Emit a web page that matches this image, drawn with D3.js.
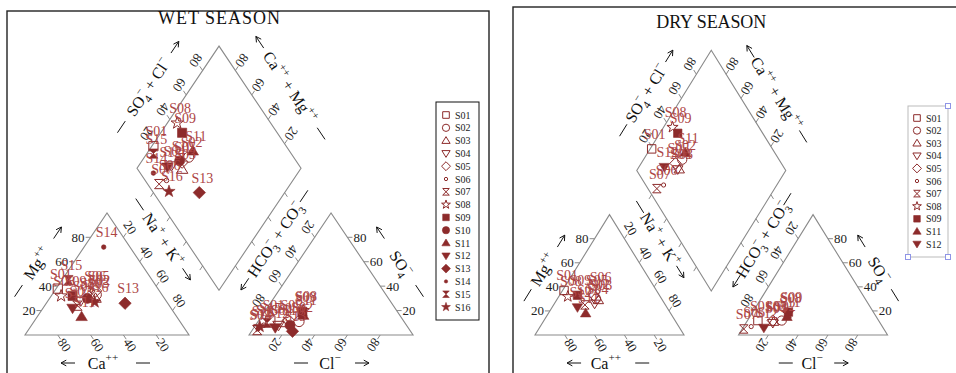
<!DOCTYPE html>
<html>
<head>
<meta charset="utf-8">
<script src="https://cdn.jsdelivr.net/npm/d3@7"></script>
<style>
  body { margin: 0; background: #fff; }
  svg { display: block; font-family: "Liberation Serif", "Times New Roman", serif; }
</style>
</head>
<body>
<svg id="chart" width="956" height="373"></svg>
<script>
// ---- data (percent of meq) ----
var wetSites = ["S01","S02","S03","S04","S05","S06","S07","S08","S09","S10","S11","S12","S13","S14","S15","S16"];
var wetCa   = [61, 40, 42, 52, 39, 41, 56, 62, 55, 47, 58, 60, 26, 16, 51, 44];
var wetMg   = [38, 33, 30, 28, 36, 36, 24, 32, 32, 30, 15, 22, 26, 72, 45, 27];
var wetNaK  = [ 1, 27, 28, 20, 25, 23, 20,  6, 13, 23, 27, 18, 48, 12,  4, 29];
var wetHCO3 = [81, 64, 73, 78, 70, 87, 93, 57, 58, 71, 59, 81, 72, 92, 84, 90];
var wetSO4  = [12, 11, 10,  8, 12,  8,  4, 20, 19,  8, 16,  6,  3,  5, 10,  7];
var wetCl   = [ 7, 25, 17, 14, 18,  5,  3, 23, 23, 21, 25, 13, 25,  3,  6,  3];

var drySites = ["S01","S02","S03","S04","S05","S06","S07","S08","S09","S11","S12"];
var dryCa   = [62, 44, 43, 47, 44, 40, 54, 62, 55, 57, 60];
var dryMg   = [37, 30, 29, 26, 33, 36, 25, 32, 33, 18, 23];
var dryNaK  = [ 1, 26, 28, 27, 23, 24, 21,  6, 12, 25, 17];
var dryHCO3 = [81, 65, 71, 72, 71, 88, 94, 58, 57, 60, 80];
var drySO4  = [12, 12, 11, 10, 12,  7,  5, 18, 19, 15,  6];
var dryCl   = [ 7, 23, 18, 18, 17,  5,  1, 24, 24, 25, 14];

var tickValues = [20, 40, 60, 80];

// marker shape per sample (shape, filled)
var symbolOf = {
  S01: ["square", false], S02: ["circle", false], S03: ["tri", false], S04: ["dtri", false],
  S05: ["diamond", false], S06: ["small", false], S07: ["hour", false], S08: ["star", false],
  S09: ["square", true], S10: ["circle", true], S11: ["tri", true], S12: ["dtri", true],
  S13: ["diamond", true], S14: ["small", true], S15: ["hour", true], S16: ["star", true]
};

var markColor = "#8d2b2b", labelColor = "#ad4545";
var gap = 0.366, H = Math.sqrt(3) / 2;
var svg = d3.select("#chart");

function symPath(kind, r) {
  var p = d3.path();
  if (kind === "square") { p.rect(-r, -r, 2 * r, 2 * r); }
  else if (kind === "circle") { p.moveTo(r * 1.1, 0); p.arc(0, 0, r * 1.1, 0, 2 * Math.PI); }
  else if (kind === "small") { p.moveTo(r * 0.5, 0); p.arc(0, 0, r * 0.5, 0, 2 * Math.PI); }
  else if (kind === "tri") { p.moveTo(0, -r * 1.2); p.lineTo(r * 1.25, r * 0.85); p.lineTo(-r * 1.25, r * 0.85); p.closePath(); }
  else if (kind === "dtri") { p.moveTo(0, r * 1.2); p.lineTo(r * 1.25, -r * 0.85); p.lineTo(-r * 1.25, -r * 0.85); p.closePath(); }
  else if (kind === "diamond") { p.moveTo(0, -r * 1.35); p.lineTo(r * 1.35, 0); p.lineTo(0, r * 1.35); p.lineTo(-r * 1.35, 0); p.closePath(); }
  else if (kind === "hour") { p.moveTo(-r, -r); p.lineTo(r, -r); p.lineTo(-r, r); p.lineTo(r, r); p.closePath(); }
  else if (kind === "star") {
    for (var k = 0; k < 10; k++) {
      var rr = k % 2 ? r * 0.55 : r * 1.4, a = -Math.PI / 2 + k * Math.PI / 5;
      if (k === 0) p.moveTo(rr * Math.cos(a), rr * Math.sin(a)); else p.lineTo(rr * Math.cos(a), rr * Math.sin(a));
    }
    p.closePath();
  }
  return p.toString();
}

function marker(g, site, x, y, r) {
  var s = symbolOf[site];
  g.append("path")
    .attr("d", symPath(s[0], r))
    .attr("transform", "translate(" + x + "," + y + ")")
    .attr("fill", s[1] ? markColor : "none")
    .attr("stroke", markColor)
    .attr("stroke-width", s[1] ? 0.6 : 1);
}

// text with sub/superscripts, vertically centred on its anchor
function richText(g, parts, size) {
  var t = g.append("text").attr("font-size", size).attr("text-anchor", "middle").attr("fill", "#111");
  var shift = -size * 0.35;
  parts.forEach(function (p) {
    var target = p[1] === "sub" ? size * 0.3 : p[1] === "sup" ? -size * 0.45 : 0;
    var ts = t.append("tspan").text(p[0]).attr("dy", target - shift);
    if (p[1]) ts.attr("font-size", size * 0.7);
    if (p[2]) ts.attr("dx", p[2]);
    shift = target;
  });
  return t;
}

function arrowMark(g, cx, cy, dir, len) {
  var x1 = cx - dir[0] * len / 2, y1 = cy - dir[1] * len / 2;
  var x2 = cx + dir[0] * len / 2, y2 = cy + dir[1] * len / 2;
  var back = Math.atan2(-dir[1], -dir[0]), hl = 6, th = 0.5;
  var p = d3.path();
  p.moveTo(x1, y1); p.lineTo(x2, y2);
  p.moveTo(x2 + hl * Math.cos(back + th), y2 + hl * Math.sin(back + th));
  p.lineTo(x2, y2);
  p.lineTo(x2 + hl * Math.cos(back - th), y2 + hl * Math.sin(back - th));
  g.append("path").attr("d", p.toString()).attr("fill", "none").attr("stroke", "#111").attr("stroke-width", 1);
}

function dashMark(g, cx, cy, dir, len) {
  g.append("line")
    .attr("x1", cx - dir[0] * len / 2).attr("y1", cy - dir[1] * len / 2)
    .attr("x2", cx + dir[0] * len / 2).attr("y2", cy + dir[1] * len / 2)
    .attr("stroke", "#111").attr("stroke-width", 1);
}

function drawPanel(cfg, sites, ca, mg, nak, hco3, so4, cl) {
  var g = svg.append("g");
  var x = d3.scaleLinear().domain([0, 1]).range([cfg.x0, cfg.x0 + cfg.side]);
  var y = d3.scaleLinear().domain([0, 1]).range([cfg.y0, cfg.y0 - cfg.vy]);
  var s = cfg.side / 164;
  var px = function (p) { return [x(p[0]), y(p[1])]; };
  var a = 0.5 * cfg.side, b = H * cfg.vy, n = Math.hypot(a, b);
  var eU = [a / n, -b / n], eD = [a / n, b / n];
  var mU = [-eU[0], -eU[1]], mD = [-eD[0], -eD[1]];
  var ang = Math.atan2(b, a) * 180 / Math.PI;
  var nUL = [-b / n, -a / n], nUR = [b / n, -a / n], nLL = [-b / n, a / n], nLR = [b / n, a / n];
  var bx = 1 + gap / 2, by = H * gap;

  var cat = function (c, m, k) { var t = c + m + k; return [k / t + 0.5 * m / t, H * m / t]; };
  var ani = function (h, so, c) { var t = h + so + c; return [1 + gap + c / t + 0.5 * so / t, H * so / t]; };
  var dia = function (cm, sc) { return [bx + 0.5 * (sc - cm), by + H * (sc + cm)]; };

  // panel frame
  g.append("rect").attr("x", cfg.frame[0]).attr("y", cfg.frame[1])
    .attr("width", cfg.frame[2]).attr("height", 420)
    .attr("fill", "none").attr("stroke", "#222").attr("stroke-width", 1.4);

  g.append("text").attr("x", x(bx)).attr("y", cfg.titleY)
    .attr("text-anchor", "middle").attr("font-size", 18)
    .attr("textLength", cfg.titleLen).attr("fill", "#111").text(cfg.title);

  // outlines
  var line = d3.line();
  var shapes = [
    [[0, 0], [1, 0], [0.5, H]],
    [[1 + gap, 0], [2 + gap, 0], [1.5 + gap, H]],
    [dia(0, 0), dia(0, 1), dia(1, 1), dia(1, 0)]
  ];
  shapes.forEach(function (sh) {
    g.append("path").attr("d", line(sh.map(px)) + "Z")
      .attr("fill", "none").attr("stroke", "#8a8a8a").attr("stroke-width", 1.1);
  });

  // ticks and tick labels
  var tickDefs = [
    { pt: function (t) { return [0.5 * t, H * t]; }, dir: [-1, 0], mode: "end" },
    { pt: function (t) { return [1 - t, 0]; }, dir: eD, rot: ang },
    { pt: function (t) { return [0.5 + 0.5 * t, H * (1 - t)]; }, dir: eU, rot: ang },
    { pt: function (t) { return [2 + gap - 0.5 * t, H * t]; }, dir: [1, 0], mode: "start" },
    { pt: function (t) { return [1 + gap + t, 0]; }, dir: mU, rot: 180 - ang },
    { pt: function (t) { return [1 + gap + 0.5 * (1 - t), H * (1 - t)]; }, dir: mD, rot: 180 - ang },
    { pt: function (t) { return dia(1, t); }, dir: mD, rot: 180 - ang },
    { pt: function (t) { return dia(t, 1); }, dir: eU, rot: 180 - ang },
    { pt: function (t) { return dia(t, 0); }, dir: mU, mode: "none" },
    { pt: function (t) { return dia(0, t); }, dir: eD, mode: "none" }
  ];
  tickDefs.forEach(function (td) {
    tickValues.forEach(function (v) {
      var p = px(td.pt(v / 100));
      g.append("line").attr("x1", p[0]).attr("y1", p[1])
        .attr("x2", p[0] + td.dir[0] * 5).attr("y2", p[1] + td.dir[1] * 5)
        .attr("stroke", "#8a8a8a").attr("stroke-width", 1);
      if (td.mode === "none") return;
      var lab;
      if (td.mode === "end" || td.mode === "start") {
        lab = g.append("text").attr("x", p[0] + td.dir[0] * 6).attr("y", p[1])
          .attr("dy", "0.35em").attr("text-anchor", td.mode);
      } else {
        var c = [p[0] + td.dir[0] * 12, p[1] + td.dir[1] * 12];
        lab = g.append("text").attr("transform", "translate(" + c[0] + "," + c[1] + ") rotate(" + td.rot + ")")
          .attr("dy", "0.35em").attr("text-anchor", "middle");
      }
      lab.attr("font-size", 13).attr("fill", "#222").text(v);
    });
  });

  // axis titles with arrows
  var mid = function (p, q) { var A = px(p), B = px(q); return [(A[0] + B[0]) / 2, (A[1] + B[1]) / 2]; };
  var along = function (p, d, l) { return [p[0] + d[0] * l, p[1] + d[1] * l]; };
  var L = dia(1, 0), T = dia(1, 1), R = dia(0, 1), Bt = dia(0, 0);
  var titles = [
    { parts: [["SO"], ["4", "sub"], ["\u2212", "sup", -5], [" + Cl"], ["\u2212", "sup"]],
      c: along(mid(L, T), nUL, 36 * s), rot: -ang, axis: eU, arrow: 48, adir: eU, dash: -48 },
    { parts: [["Ca"], ["++", "sup"], [" + Mg"], ["++", "sup"]],
      c: along(mid(R, T), nUR, 36 * s), rot: ang, axis: eD, arrow: -54, adir: mD, dash: 56 },
    { parts: [["Na"], ["+", "sup"], [" + K"], ["+", "sup"]],
      c: along(mid(L, Bt), nLL, 18 * s), rot: ang, axis: eD, arrow: 42, adir: eD, dash: -42 },
    { parts: [["HCO"], ["3", "sub"], ["\u2212", "sup", -5], [" + CO"], ["3", "sub"], ["\u2212", "sup", -5]],
      c: along(mid(R, Bt), nLR, 18 * s), rot: -ang, axis: eU, arrow: -54, adir: mU, dash: 52 },
    { parts: [["Mg"], ["++", "sup"]],
      c: along(along(px([0, 0]), eU, 66 * s), nUL, 30 * s), rot: -ang, axis: eU, arrow: 37, adir: eU, dash: -33 },
    { parts: [["SO"], ["4", "sub"], ["\u2212", "sup", -5]],
      c: along(along(px([2 + gap, 0]), mD, 66 * s), nUR, 30 * s), rot: ang, axis: eD, arrow: -37, adir: mD, dash: 33 },
    { parts: [["Ca"], ["++", "sup"]],
      c: [x(0.5) - 4 * s, cfg.y0 + 28], rot: 0, axis: [1, 0], arrow: -35, adir: [-1, 0], dash: 40 },
    { parts: [["Cl"], ["\u2212", "sup"]],
      c: [x(1.5 + gap) - 1 * s, cfg.y0 + 28], rot: 0, axis: [1, 0], arrow: 32, adir: [1, 0], dash: -29 }
  ];
  titles.forEach(function (tt) {
    var tg = g.append("g").attr("transform", "translate(" + tt.c[0] + "," + tt.c[1] + ") rotate(" + tt.rot + ")");
    richText(tg, tt.parts, 16);
    var ap = along(tt.c, tt.axis, tt.arrow * s), dp = along(tt.c, tt.axis, tt.dash * s);
    arrowMark(g, ap[0], ap[1], tt.adir, 14);
    dashMark(g, dp[0], dp[1], tt.axis, 14);
  });

  // samples: cations, anions, diamond
  var pts = sites.map(function (site, i) {
    var t1 = ca[i] + mg[i] + nak[i], t2 = hco3[i] + so4[i] + cl[i];
    return {
      site: site,
      spots: [
        px(cat(ca[i], mg[i], nak[i])),
        px(ani(hco3[i], so4[i], cl[i])),
        px(dia((ca[i] + mg[i]) / t1, (so4[i] + cl[i]) / t2))
      ]
    };
  });
  var mg_ = g.append("g");
  pts.forEach(function (d) {
    d.spots.forEach(function (p) { marker(mg_, d.site, p[0], p[1], cfg.r); });
  });
  pts.forEach(function (d) {
    d.spots.forEach(function (p) {
      mg_.append("text").attr("x", p[0] + 3).attr("y", p[1] - 10)
        .attr("text-anchor", "middle").attr("font-size", 14)
        .attr("fill", labelColor).text(d.site);
    });
  });

  // legend
  var lg = g.append("g");
  lg.append("rect").attr("x", cfg.legend[0]).attr("y", cfg.legend[1])
    .attr("width", cfg.legend[2]).attr("height", cfg.legend[3])
    .attr("fill", "#fff").attr("stroke", cfg.legendStroke).attr("stroke-width", 1);
  sites.forEach(function (site, i) {
    var yy = cfg.legendY0 + i * cfg.legendStep;
    marker(lg, site, cfg.legendSym, yy, 3.3);
    lg.append("text").attr("x", cfg.legendSym + 9).attr("y", yy).attr("dy", "0.35em")
      .attr("font-size", 10).attr("fill", "#222").text(site);
  });
  if (cfg.handles) {
    var L0 = cfg.legend;
    [[L0[0] + L0[2], L0[1]], [L0[0], L0[1] + L0[3]], [L0[0] + L0[2], L0[1] + L0[3]]].forEach(function (h) {
      lg.append("rect").attr("x", h[0] - 2.5).attr("y", h[1] - 2.5).attr("width", 5).attr("height", 5)
        .attr("fill", "#fff").attr("stroke", "#8f95e6").attr("stroke-width", 1);
    });
  }
}

drawPanel({
  x0: 25, y0: 335, side: 164, vy: 141, r: 4.6,
  frame: [7, 11, 482], title: "WET SEASON", titleY: 24, titleLen: 122,
  legend: [436, 102, 43, 218], legendStroke: "#111", legendY0: 115, legendStep: 12.8, legendSym: 446
}, wetSites, wetCa, wetMg, wetNaK, wetHCO3, wetSO4, wetCl);

drawPanel({
  x0: 535, y0: 335, side: 149, vy: 139, r: 4.2,
  frame: [513, 7, 470], title: "DRY SEASON", titleY: 28, titleLen: 110,
  legend: [908, 106, 40, 151], legendStroke: "#bbbbbb", legendY0: 118, legendStep: 12.6, legendSym: 917,
  handles: true
}, drySites, dryCa, dryMg, dryNaK, dryHCO3, drySO4, dryCl);
</script>
</body>
</html>
